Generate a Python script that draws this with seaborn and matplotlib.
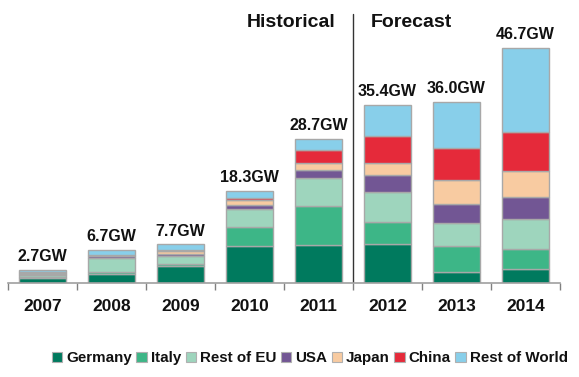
import matplotlib
matplotlib.use("Agg")
import matplotlib.pyplot as plt
import seaborn as sns
import numpy as np
import pandas as pd
from matplotlib.patches import Patch

years = ["2007", "2008", "2009", "2010", "2011", "2012", "2013", "2014"]
germany = [1.1, 1.9, 3.4, 7.3, 7.5, 7.8, 2.3, 2.8]
italy = [0.1, 0.3, 0.5, 3.9, 7.9, 4.4, 5.0, 4.0]
rest_eu = [0.5, 2.9, 1.5, 3.6, 5.4, 6.0, 4.6, 6.0]
usa = [0.2, 0.3, 0.5, 0.8, 1.7, 3.2, 3.8, 4.4]
japan = [0.2, 0.2, 0.5, 0.9, 1.3, 2.5, 4.7, 5.1]
china = [0.1, 0.1, 0.2, 0.5, 2.6, 5.4, 6.5, 7.8]
rest_world = [0.5, 1.0, 1.1, 1.3, 2.3, 6.1, 9.1, 16.6]
totals = [2.7, 6.7, 7.7, 18.3, 28.7, 35.4, 36.0, 46.7]
series_names = ["Germany", "Italy", "Rest of EU", "USA", "Japan", "China", "Rest of World"]
colors = ["#007a5e", "#3db687", "#9ed5bd", "#725694", "#f8cba1", "#e52a3a", "#88cfea"]

series = [germany, italy, rest_eu, usa, japan, china, rest_world]

sns.set_theme(style="white")
plt.rcParams["font.family"] = ["Liberation Sans", "DejaVu Sans"]

fig = plt.figure(figsize=(5.79, 3.77), dpi=100)
ax = fig.add_axes([8 / 579, (377 - 283.3) / 377, 552 / 579, 273.3 / 377])

bottom = np.zeros(len(years))
for name, vals, c in zip(series_names, series, colors):
    df = pd.DataFrame({"year": years, "val": vals})
    sns.barplot(data=df, x="year", y="val", order=years, color=c, saturation=1,
                width=0.67, bottom=bottom, edgecolor="#a8a8a8", linewidth=1.0,
                ax=ax, errorbar=None)
    bottom = bottom + np.array(vals)

for i, t in enumerate(totals):
    ax.annotate(f"{t:.1f}GW", xy=(i, t), xytext=(0, 4), textcoords="offset points",
                ha="center", va="bottom", fontsize=11.5, fontweight="bold", color="#111111")

ax.set_xlim(-0.5, 7.5)
ax.set_ylim(0, 54.2)
ax.set_xlabel("")
ax.set_ylabel("")
ax.set_yticks([])
for s in ["top", "right", "left"]:
    ax.spines[s].set_visible(False)
ax.spines["bottom"].set_color("#a0a0a0")
ax.spines["bottom"].set_linewidth(1.2)
ax.set_xticks(range(len(years)))
ax.set_xticklabels(years, fontsize=12.5, fontweight="bold", color="#111111")
ax.tick_params(axis="x", which="major", length=0, pad=11)
ax.set_xticks(np.arange(-0.5, 8.0, 1.0), minor=True)
ax.tick_params(axis="x", which="minor", length=5, width=1, color="#808080", direction="out", bottom=True)

ax.axvline(4.5, ymin=0, ymax=0.985, color="#333333", linewidth=1)
ax.text(4.25, 51.7, "Historical", ha="right", va="center", fontsize=14, fontweight="bold", color="#111111")
ax.text(4.75, 51.7, "Forecast", ha="left", va="center", fontsize=14, fontweight="bold", color="#111111")

handles = [Patch(facecolor=c, edgecolor="#b0b0b0", linewidth=0.8, label=n) for n, c in zip(series_names, colors)]
leg = fig.legend(handles=handles, loc="center", bbox_to_anchor=(0.535, 0.050), ncol=7, frameon=False,
                 fontsize=10.9, handlelength=0.7, handleheight=0.7, handletextpad=0.25, columnspacing=0.3)
for t in leg.get_texts():
    t.set_fontweight("bold")
    t.set_color("#111111")

fig.savefig("out.png", dpi=100)
